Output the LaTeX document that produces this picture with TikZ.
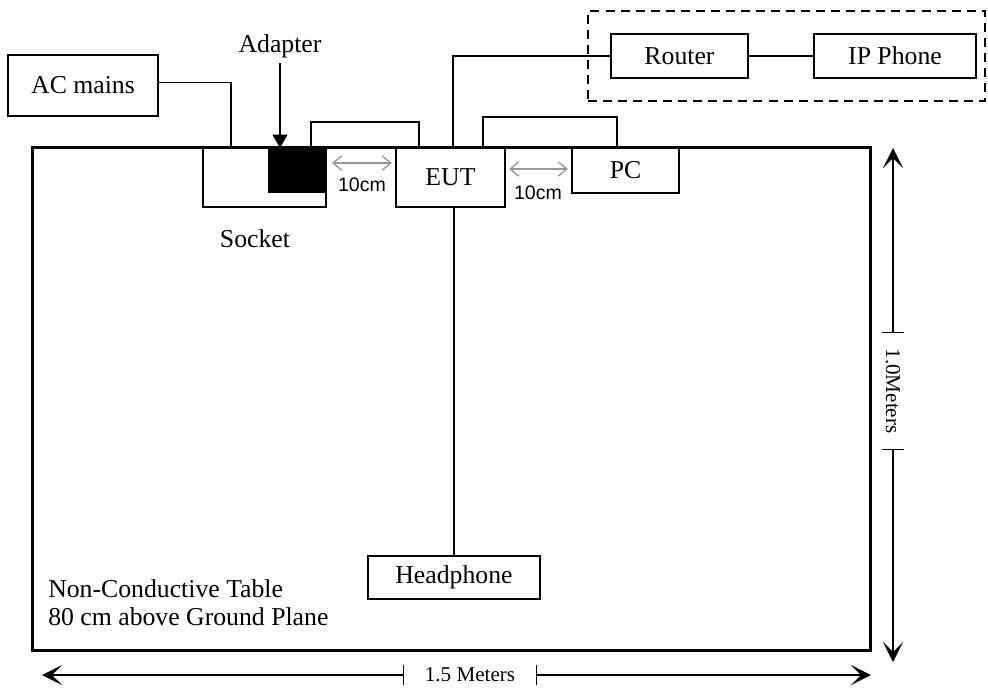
\documentclass[tikz,border=0pt]{standalone}
\usepackage{fontspec}
\setmainfont{Liberation Serif}
\newfontfamily\gapsans{Liberation Sans}
\usetikzlibrary{arrows.meta,positioning,calc}
\definecolor{gapgray}{HTML}{999999}

\begin{document}
\begin{tikzpicture}[x=0.025cm, y=-0.025cm,
  box/.style={draw, line width=1.1pt, inner sep=0pt, outer sep=0pt,
    font=\fontsize{18.3}{20}\selectfont},
  plain/.style={font=\fontsize{18.3}{20}\selectfont},
  tablebox/.style={draw, line width=2.1pt, inner sep=0pt, outer sep=0pt},
  lanbox/.style={draw, line width=1.1pt, dash pattern=on 6.4pt off 4.3pt,
    inner sep=0pt, outer sep=0pt},
  wire/.style={line width=1.1pt},
  gaparrow/.style={draw=gapgray, line width=1pt,
    {Straight Barb[length=2.2mm,width=3.6mm]}-{Straight Barb[length=2.2mm,width=3.6mm]}},
  gapfont/.style={font=\gapsans\fontsize{13.9}{15}\selectfont},
  dimline/.style={line width=1.1pt, -{Stealth[length=5mm,width=5mm,inset=2.5mm]}},
  dimfont/.style={font=\fontsize{15}{16}\selectfont, inner sep=0pt}]
  \useasboundingbox (0,0) rectangle (988,687);

  % Devices along the table edge
  \node[box, minimum width=3.075cm, minimum height=1.5cm] (socket) at (264.5,177) {};
  \node[fill=black, inner sep=0pt, outer sep=0pt, minimum width=1.45cm, minimum height=1.15cm] (adapter) at (297,170) {};
  \node[box, minimum width=2.725cm, minimum height=1.5cm] (eut) at (450.5,177) {EUT};
  \node[box, minimum width=2.675cm, minimum height=1.15cm] (pc) at (625.5,170) {PC};
  \node[box, minimum width=4.3cm, minimum height=1.075cm] (hp) at (454,577.5) {Headphone};

  % Table outline
  \node[tablebox, minimum width=20.925cm, minimum height=12.55cm] (table) at (451.5,399) {};

  % Units off the table
  \node[box, minimum width=3.75cm, minimum height=1.525cm] (ac) at (83,85.5) {AC mains};
  \node[lanbox, minimum width=9.925cm, minimum height=2.25cm] (lan) at (786.5,56) {};
  \node[box, minimum width=3.425cm, minimum height=1.1cm] (router) at (679.5,56) {Router};
  \node[box, minimum width=4.05cm, minimum height=1.1cm] (phone) at (895,56) {IP Phone};

  % Labels
  \node[plain] (adlabel) at (280,46) {Adapter};
  \node[plain] (socketlabel) at (255,239) {Socket};
  \node[plain, align=left, anchor=west, inner sep=0pt] (tablelabel) at (48,603)
    {Non-Conductive Table\\80 cm above Ground Plane};
  \node[gapfont] (gapa) at (362,185) {10cm};
  \node[gapfont] (gapb) at (538,193) {10cm};

  % Cables
  \coordinate (acin) at (231,148);
  \draw[wire] ($(ac.east)+(0,-3)$) -| (acin);
  \draw[wire, -{Triangle[length=3.3mm,width=3.7mm]}] (adlabel.south) -- (adlabel.south |- table.north);
  \draw[wire] ($(adapter.north)+(14,0)$) -- ++(0,-25) -| ($(eut.north west)+(23,0)$);
  \draw[wire] ($(eut.north)+(2.5,0)$) |- (router.west);
  \draw[wire] ($(eut.north west)+(87,0)$) -- ++(0,-30) -| ($(pc.north west)+(45,0)$);
  \draw[wire] (router) -- (phone);
  \draw[wire] (eut.south -| hp.north) -- (hp.north);

  % 10cm spacings
  \draw[gaparrow] ($(adapter.east)+(6,-7)$) -- ($(eut.west |- adapter.east)+(-4,-7)$);
  \draw[gaparrow] ($(eut.east |- pc.west)+(4,-1)$) -- ($(pc.west)+(-4,-1)$);

  % Table size
  \node[dimfont, minimum width=3.3cm] (hlen) at (470,675) {1.5 Meters};
  \coordinate (hl) at (42,675);
  \coordinate (hr) at (871,675);
  \draw[dimline] (hlen.west) -- (hl);
  \draw[dimline] (hlen.east) -- (hr);
  \draw[wire] ($(hlen.west)+(0,-10)$) -- ++(0,20);
  \draw[wire] ($(hlen.east)+(0,-10)$) -- ++(0,20);

  \node[dimfont, rotate=-90, minimum width=2.9cm] (vlen) at (893,391) {1.0Meters};
  \coordinate (vt) at (893,148);
  \coordinate (vb) at (893,662);
  \draw[dimline] (vlen.west) -- (vt);
  \draw[dimline] (vlen.east) -- (vb);
  \draw[wire] ($(vlen.west)+(-11,0)$) -- ++(22,0);
  \draw[wire] ($(vlen.east)+(-11,0)$) -- ++(22,0);
\end{tikzpicture}
\end{document}
